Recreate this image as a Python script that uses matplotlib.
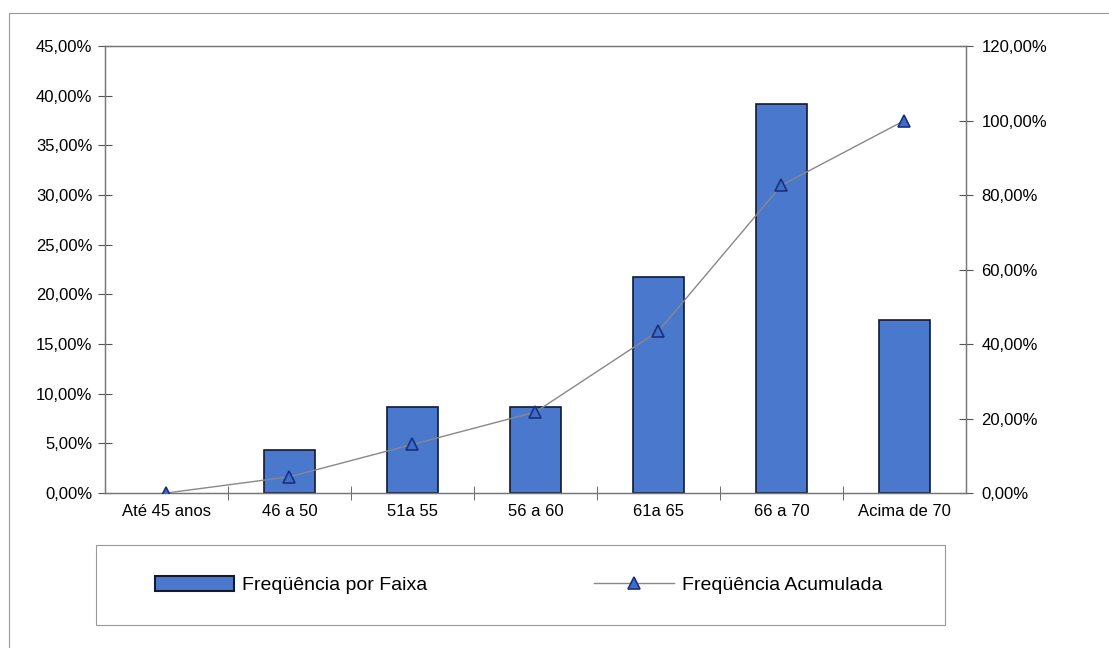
import matplotlib
matplotlib.use('Agg')
import matplotlib.pyplot as plt
from matplotlib.ticker import FuncFormatter, FixedLocator
from matplotlib.patches import Rectangle, Patch

plt.rcParams['font.family'] = ['Liberation Sans', 'DejaVu Sans']

faixas = ['Até 45 anos', '46 a 50', '51a 55', '56 a 60', '61a 65', '66 a 70', 'Acima de 70']
freq_faixa = [0.0, 4.35, 8.70, 8.70, 21.74, 39.13, 17.39]
freq_acum = [0.0, 4.35, 13.04, 21.74, 43.48, 82.61, 100.0]

bar_color = '#4a78cc'
bar_edge = '#111a33'

fig = plt.figure(figsize=(11.09, 6.48), dpi=100)
# outer chart border
fig.patches.append(Rectangle((0.008, -0.02), 1.1, 1.0, transform=fig.transFigure,
                             fill=False, edgecolor='#999999', linewidth=0.8))

ax = fig.add_axes([105 / 1109, 1 - 493 / 648, (966 - 105) / 1109, (493 - 46) / 648])
ax2 = ax.twinx()

x = list(range(len(faixas)))
lw = [0 if v == 0 else 1.2 for v in freq_faixa]
ax.bar(x, freq_faixa, width=0.42, color=bar_color, edgecolor=bar_edge, linewidth=lw, zorder=2)
line, = ax2.plot(x, freq_acum, color='#888888', linewidth=1.0, marker='^', markersize=8,
                 markerfacecolor='#3d6fc8', markeredgecolor='#1a2f80', markeredgewidth=1.2,
                 label='Freqüência Acumulada', zorder=3)

ax.set_xlim(-0.5, len(faixas) - 0.5)
ax.set_ylim(0, 45)
ax2.set_ylim(0, 120)
ax.set_yticks([i * 5 for i in range(10)])
ax2.set_yticks([i * 20 for i in range(7)])
fmt = FuncFormatter(lambda v, p: ('%.2f%%' % v).replace('.', ','))
ax.yaxis.set_major_formatter(fmt)
ax2.yaxis.set_major_formatter(fmt)

ax.set_xticks(x)
ax.set_xticklabels(faixas)
ax.tick_params(axis='x', length=0, labelsize=12, pad=8)
ax.xaxis.set_minor_locator(FixedLocator([i - 0.5 for i in range(1, len(faixas))]))
ax.tick_params(axis='x', which='minor', direction='inout', length=10, color='#555555')
ax.tick_params(axis='y', direction='inout', length=10, labelsize=12, color='#555555', pad=4)
ax2.tick_params(axis='y', direction='inout', length=10, labelsize=12, color='#555555', pad=6)

for a in (ax, ax2):
    for s in a.spines.values():
        s.set_color('#777777')
        s.set_linewidth(0.9)
ax.set_zorder(ax2.get_zorder() - 1)
ax.patch.set_visible(False)

bar_handle = Patch(facecolor=bar_color, edgecolor=bar_edge, linewidth=1.5)
leg = fig.legend([bar_handle, line], ['Freqüência por Faixa', 'Freqüência Acumulada'],
                 loc='center left', ncol=2, fontsize=14,
                 bbox_to_anchor=(137 / 1109, 1 - 585 / 648),
                 frameon=False, handlelength=4.1, handleheight=0.8,
                 handletextpad=0.4, columnspacing=8.6)
fig.patches.append(Rectangle((96 / 1109, 1 - 625 / 648), (945 - 96) / 1109, 80 / 648,
                             transform=fig.transFigure, fill=False,
                             edgecolor='#999999', linewidth=0.8))

fig.savefig('out.png', dpi=100)
